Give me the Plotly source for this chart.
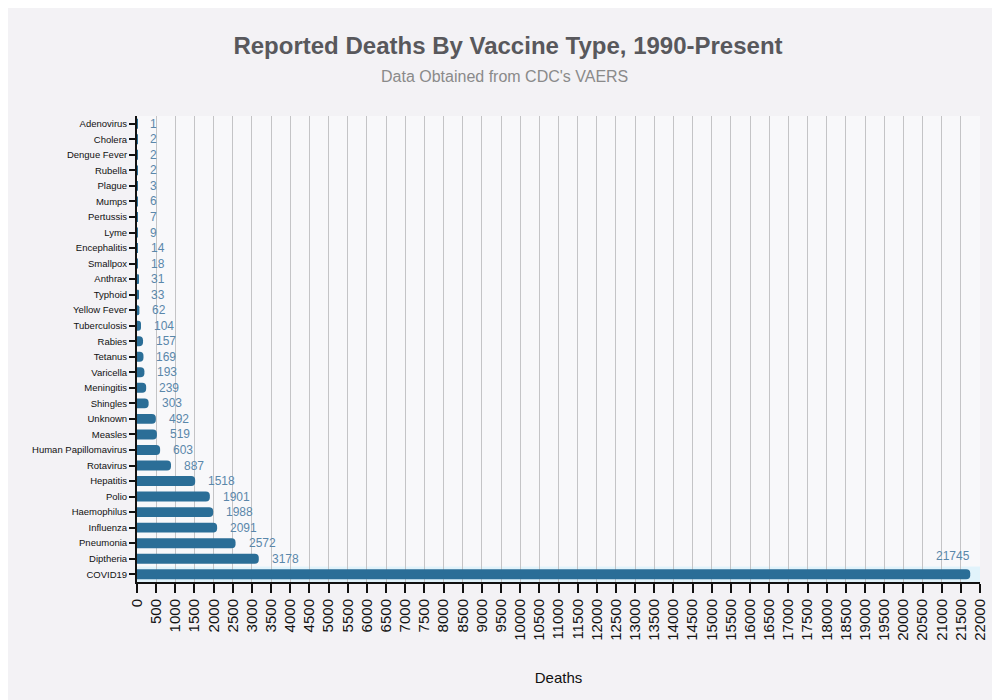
import plotly.graph_objects as go

vaccines = ["Adenovirus", "Cholera", "Dengue Fever", "Rubella", "Plague", "Mumps",
            "Pertussis", "Lyme", "Encephalitis", "Smallpox", "Anthrax", "Typhoid",
            "Yellow Fever", "Tuberculosis", "Rabies", "Tetanus", "Varicella",
            "Meningitis", "Shingles", "Unknown", "Measles", "Human Papillomavirus",
            "Rotavirus", "Hepatitis", "Polio", "Haemophilus", "Influenza",
            "Pneumonia", "Diptheria", "COVID19"]
deaths = [1, 2, 2, 2, 3, 6, 7, 9, 14, 18, 31, 33, 62, 104, 157, 169, 193, 239,
          303, 492, 519, 603, 887, 1518, 1901, 1988, 2091, 2572, 3178, 21745]

bar_color = "#2b6e97"
label_color = "#5a87aa"

fig = go.Figure()
fig.add_trace(go.Bar(
    x=deaths,
    y=vaccines,
    orientation="h",
    marker=dict(color=bar_color, line=dict(width=0)),
    hoverinfo="x+y",
))

# value labels next to each bar (last one sits above, it runs to the edge)
for v, d in zip(vaccines, deaths):
    if d == max(deaths):
        fig.add_annotation(x=d, y=v, text=str(d), showarrow=False,
                           xanchor="right", yshift=18, xshift=2,
                           font=dict(size=12, color=label_color))
    else:
        fig.add_annotation(x=d, y=v, text=str(d), showarrow=False,
                           xanchor="left", xshift=11,
                           font=dict(size=12, color=label_color))

# subtitle (centred on the page, not the plot area)
fig.add_annotation(xref="paper", yref="paper", x=0.4365, y=1.084,
                   text="Data Obtained from CDC's VAERS", showarrow=False,
                   xanchor="center", yanchor="middle",
                   font=dict(size=16, color="#8a8a8a"))

# hover highlight band behind the COVID19 row
covid_idx = vaccines.index("COVID19")
fig.add_shape(type="rect", xref="paper", yref="y", x0=0, x1=1,
              y0=covid_idx - 0.5, y1=covid_idx + 0.5,
              fillcolor="#e1f3fb", line=dict(width=0), layer="below")

fig.update_layout(
    width=1000, height=700,
    paper_bgcolor="#f3f2f5",
    plot_bgcolor="#f8f8fa",
    font=dict(family="Liberation Sans, Arial, sans-serif", color="#222"),
    title=dict(
        text="<b>Reported Deaths By Vaccine Type, 1990-Present</b>",
        x=0.5, xanchor="center", y=0.947, yanchor="middle",
        font=dict(size=24, color="#58585c"),
    ),
    margin=dict(l=129, r=28, t=108, b=126),
    bargap=0.36,
    barcornerradius=4,
    showlegend=False,
)

fig.update_xaxes(
    range=[0, 22000], dtick=500, tick0=0, tickformat="d",
    automargin=False,
    showgrid=True, gridcolor="#c4c4c6", gridwidth=1,
    showline=True, linecolor="#111", linewidth=2,
    ticks="outside", ticklen=9, tickwidth=2, tickcolor="#111",
    tickangle=-90, tickfont=dict(size=15, color="#111"),
    zeroline=False,
    title=dict(text="Deaths", font=dict(size=15, color="#111"), standoff=33),
)
fig.update_yaxes(
    range=[len(vaccines) - 0.5, -0.5],
    automargin=False,
    showgrid=False,
    showline=True, linecolor="#111", linewidth=2,
    ticks="outside", ticklen=6, tickwidth=2, tickcolor="#111",
    tickfont=dict(size=9.5, color="#111"),
)

fig.write_html("out.html")
